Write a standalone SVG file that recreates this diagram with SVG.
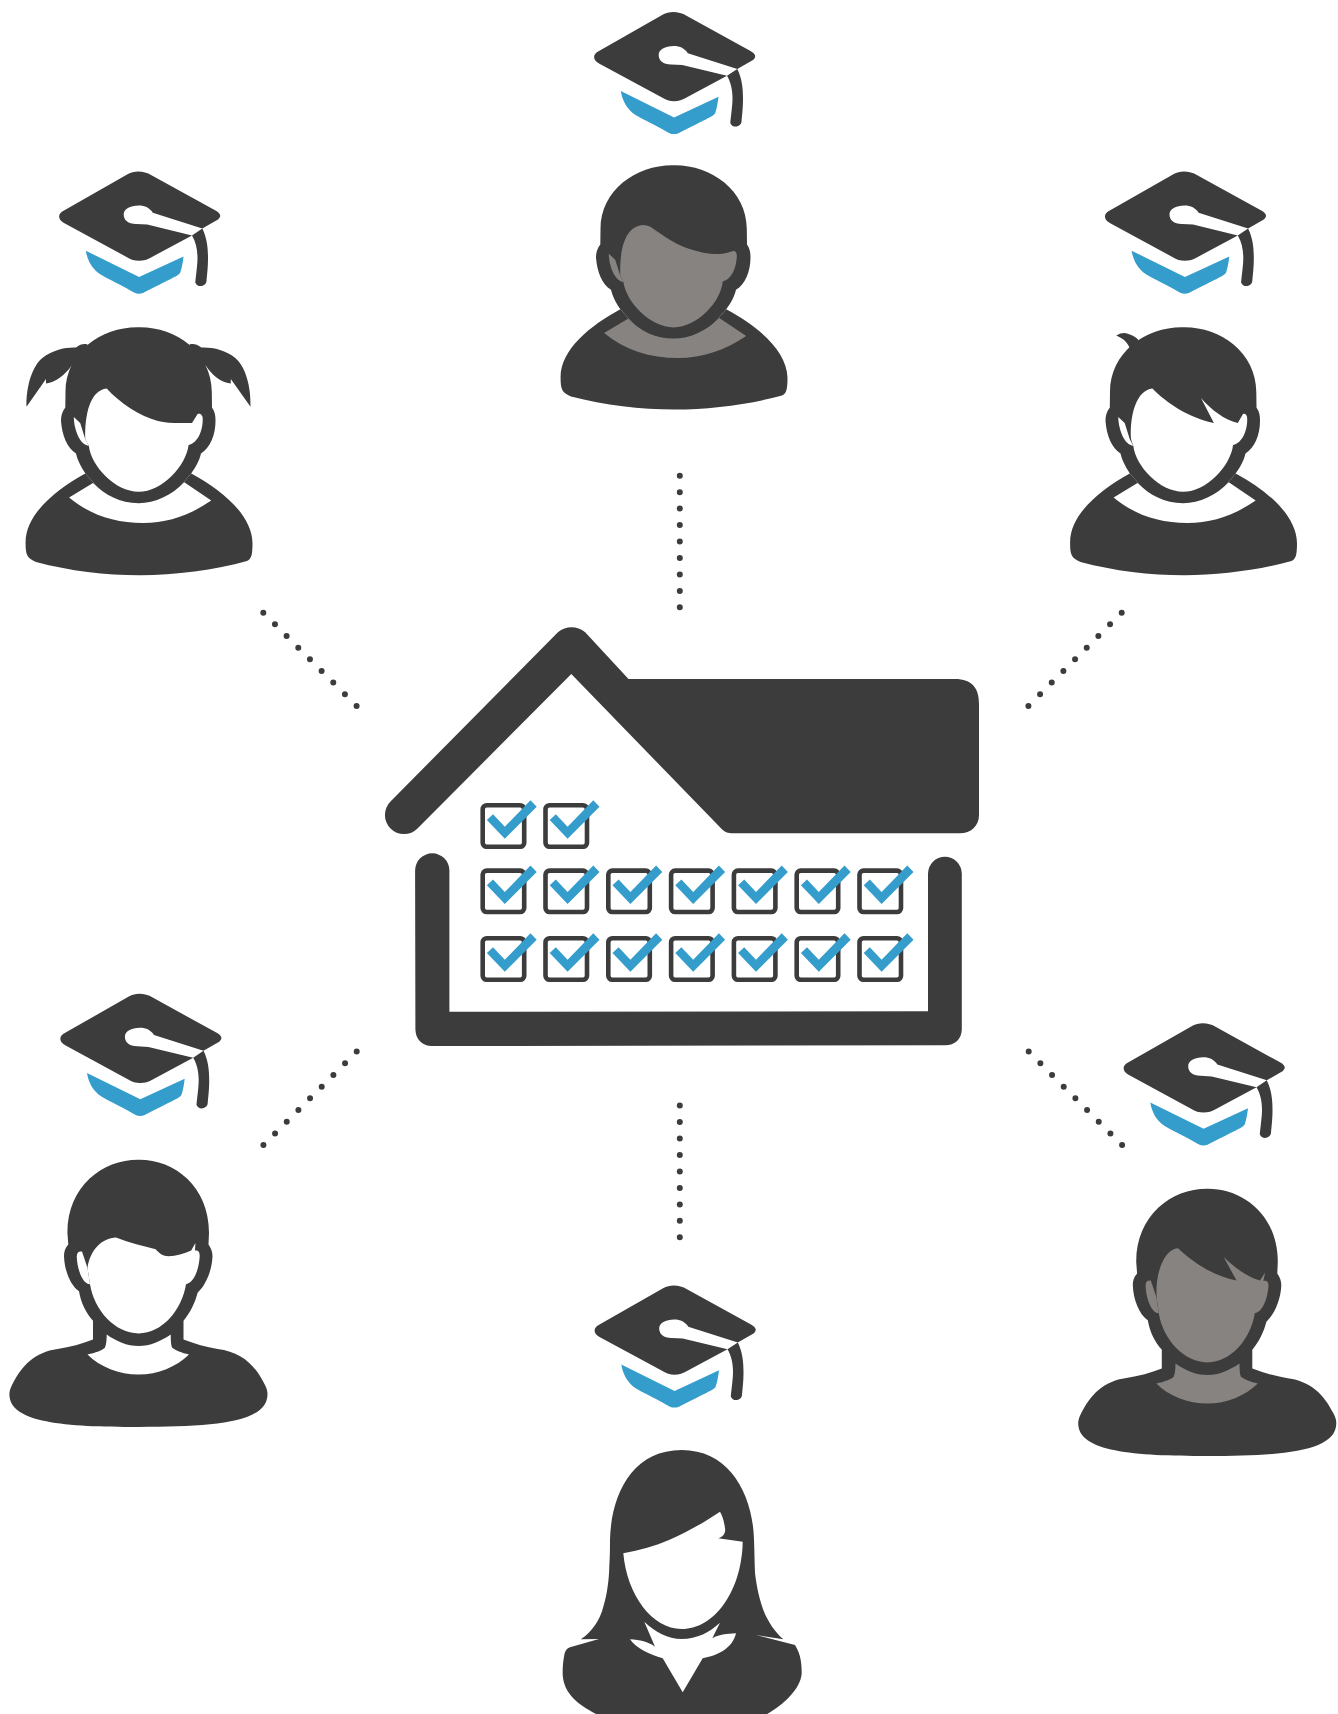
<svg xmlns="http://www.w3.org/2000/svg" xmlns:xlink="http://www.w3.org/1999/xlink" width="1338" height="1714" viewBox="0 0 1338 1714">
<style>
.d{fill:#3c3c3c}
.b{fill:#359dcc}
.w{fill:#fff}
.g{fill:#878381}
.dots line{stroke:#3c3c3c;stroke-width:6;stroke-linecap:round;stroke-dasharray:0 1;fill:none}
</style>
<defs>
<g id="hat">
<path class="d" fill-rule="evenodd" d="M128 174C134 170.5 144 170.5 151.5 175.3L215.5 210.5C221 213.5 221.5 216.5 218 219.5L202.3 228.5L152.8 212.8C150 208 145 205.5 138.7 205.5C130 205.5 123.7 209 123.7 214.5C123.7 220 128 224 136 224L147.2 224.6L192 235.4L151.5 257.2C144 262 134 262 127 257.2L64 223C57.5 219.5 57.5 213.5 64 210.5Z"/>
<path class="d" d="M202.3 228.5C207 238 208 248 208 258C208 268 207 275 206.5 281C206 287 197 288 195.3 282.5C196 275 197.5 265 197.5 258C197.5 250 196 242 192 235.4Z"/>
<path class="b" d="M85.8 250.7L139.1 277L183.5 256.4C182.5 265 181 271 180 273C178 276 170 279 143 293C140 294 137 294 134 292.5C115 281 100 276 95 270C90 265 87 258 85.8 250.7Z"/>
</g>
<path id="bodyA" class="d" d="M85.3 473.4C55 490 25 515 25.6 543C25.6 555 27 558 36 562C70 571 105 575.2 140 575.2C175 575.2 215 570 247 561C251 559 252.5 556 252.5 543C252 515 222 490 191.2 473.4L177 490L100 490Z"/>
<path id="headA" class="d" d="M138.7 327.2C102 326.5 65.5 352 65.5 392L65.3 407.6C62 412 61 416 61 421C62 435 67 448 76 453.5C78 462 82 468 85.3 473.4L100 490C112 498 125 503.2 138.7 503.2C152 503.2 165 498 177 490L191.2 473.4C195 468 199 462 201 453.5C210 448 215.5 435 215.5 421C215.5 416 215 412 212 407.6L211.8 392C211.8 352 175 326.5 138.7 327.2Z"/>
<path id="collarA" d="M69.1 497.5L93 483C105 495 120 503.2 138.7 503.2C155 503.2 172 495 184.3 482.2L211.2 500.6C190 515 168 523 143 523C115 523 90 515 69.1 497.5Z"/>
<path id="earA" d="M73.8 417L80.2 423L85.3 439.3L88.8 445.8C80 445 74 430 73.8 417Z"/>
<path id="faceGirl" d="M85.3 439.3C84.5 415 90 390 106.7 388.4C120 403 140 416 157.9 421C168 423.5 180 423 192 422.9L197.6 414C200 413 203 415 202.7 419C203 430 198 443 188.6 445C186 466 162 491.8 138.7 491.8C115 491.8 91 466 88.8 445.8Z"/>
<path id="faceSpike" d="M86.5 439.3C85 415 92 390 107.9 388.4C122 403 145 418 169.4 422.9L156.5 398C167 410 180 420 193.3 422.9L198.5 414C200.5 413 203 415 202.7 419C203 430 198 443 188.6 445C186 466 162 491.8 138.7 491.8C115 491.8 91 466 88.8 445.8Z"/>
<path id="silB" class="d" d="M138.7 1159.8C103 1159.5 67.4 1186 67.4 1232.8L68.3 1244.5C65 1248 64 1252 64 1256.2C64.5 1270 70 1285 79 1291.3C81 1303 86 1313 93 1320.8L93 1339.5C82 1344 70 1347 57.6 1348.9C35 1352 22 1365 12 1385C10 1389 9.4 1392 9.4 1394.3C9.4 1423 65 1427 138.7 1427C212 1427 267.5 1423 267.5 1394.3C267.5 1392 267 1389 265 1385C255 1365 242 1352 217.6 1348.9C206 1347 195 1344 183.5 1339.5L183.5 1320.8C190 1313 195 1303 197.6 1292.7C206 1285 212 1270 212.5 1256.2C212.5 1252 211 1248 208.5 1244.5L209 1232.8C209 1186 174 1159.5 138.7 1159.8Z"/>
<path id="collarB" d="M87.5 1354.5C95 1353 103 1350 105 1347.5C106.5 1344 106.7 1338 106.7 1334.4C116 1341 127 1346 138.7 1346C150 1346 161 1341 170.7 1334.4C170.7 1340 171 1345 172 1347.5C175 1350 182 1353 189 1354.5C176 1367 158 1374.6 138.7 1374.6C119 1374.6 100 1367 87.5 1354.5Z"/>
<path id="earB" d="M76.8 1256.2C77 1252 79 1251 82 1251.5L87.5 1267.9L90 1284.3C82 1284 77 1268 76.8 1256.2Z"/>
<g id="cb">
<rect x="482.7" y="805.3" width="41.5" height="41.4" rx="4" fill="none" stroke="#3c3c3c" stroke-width="4.6"/>
<path class="b" d="M493 814.3L504.8 826.7L530.5 800.3L536.7 806.7L504.8 838.7L486.9 820Z"/>
</g>
</defs>

<g id="connectors" class="dots">
<line x1="679.8" y1="475.7" x2="679.8" y2="607.5" pathLength="8.01"/>
<line x1="679.8" y1="1105.5" x2="679.8" y2="1237.5" pathLength="8.01"/>
<line x1="263.3" y1="612.7" x2="356.7" y2="706" pathLength="8.01"/>
<line x1="1121.7" y1="612.7" x2="1028.3" y2="706" pathLength="8.01"/>
<line x1="356.7" y1="1051.6" x2="263.3" y2="1145.2" pathLength="8.01"/>
<line x1="1028.7" y1="1051.6" x2="1122.2" y2="1145.2" pathLength="8.01"/>
</g>

<g id="house">
<path class="d" d="M390.5 801.5L557.9 632.3C566 625.5 577 625.5 585.2 632.3L628.5 679L955 679C972 679 979 688 979 704L979 815C979 826 971 833.3 959.8 833.3L733.3 833.3C728 833.3 724 832 721 828.3L571.3 674L417.5 828.5A19 19 0 0 1 390.5 801.5Z"/>
<path class="d" d="M415.1 870.5A17.15 17.15 0 0 1 449.4 870.5L449.4 1011.7L928 1011.3L928 873.6A16.9 16.9 0 0 1 961.8 873.6L961.8 1029C961.8 1039 955 1045.3 945 1045.3L432 1046C422 1046 415.4 1039 415.4 1029Z"/>
<g id="checkboxes">
<use href="#cb"/><use href="#cb" x="62.8"/>
<use href="#cb" y="65.3"/><use href="#cb" x="62.8" y="65.3"/><use href="#cb" x="125.6" y="65.3"/><use href="#cb" x="188.4" y="65.3"/><use href="#cb" x="251.2" y="65.3"/><use href="#cb" x="314" y="65.3"/><use href="#cb" x="376.8" y="65.3"/>
<use href="#cb" y="133"/><use href="#cb" x="62.8" y="133"/><use href="#cb" x="125.6" y="133"/><use href="#cb" x="188.4" y="133"/><use href="#cb" x="251.2" y="133"/><use href="#cb" x="314" y="133"/><use href="#cb" x="376.8" y="133"/>
</g>
</g>

<g id="student-top-left">
<use href="#hat"/>
<use href="#bodyA"/>
<path class="d" d="M76 347.5C66 347 52 350 42.7 357.8C33 365 26 385 26.5 406.8L46 378.9L46 383.5C56 382 65 375 71.7 365.5L85 360L87.5 344.4C84 343.5 80 344 76 347.5Z"/>
<path class="d" d="M201.4 347.5C212 347 226 350 235 357.8C245 366 251 385 250.5 406.8L230.8 378.9L230.8 383.5C220 382 212 375 205.7 365.5L192 360L189.5 344.4C193 343.5 197 344 201.4 347.5Z"/>
<use href="#headA"/>
<use href="#collarA" class="w"/>
<use href="#faceGirl" class="w"/>
<use href="#earA" class="w"/>
</g>

<g id="student-top-center">
<use href="#hat" transform="translate(535,-159.6)"/>
<g transform="translate(535,-156.9) scale(1,.9847)">
<use href="#bodyA"/><use href="#headA"/>
<use href="#collarA" class="g"/>
<path class="g" d="M85.3 439.3C84.5 418 88 389 108.3 387.9C113 388 117 390.5 120 392.9C130 400 140 406.5 148.3 409.9C162 415.5 175 417.5 185 417.3C190 417 195 415 198.3 414.3C201 414 202.3 417 201.7 421.7C201 431 197 443 187.7 445.3C186 466 162 491.8 138.7 491.8C115 491.8 91 466 88.3 445.3Z"/>
<use href="#earA" class="g"/>
</g>
</g>

<g id="student-top-right">
<use href="#hat" transform="translate(1045.8,0)"/>
<g transform="translate(1044.5,0)">
<use href="#bodyA"/><use href="#headA"/>
<path class="d" d="M71.7 335.6C76 333 80 332.5 83.2 333.7C87 334.5 91 337 93.9 339.8L90 352L85.3 349C85 346 82 343 81.9 342.5C79 339 75 337 71.7 335.6Z"/>
<use href="#collarA" class="w"/>
<use href="#faceSpike" class="w"/>
<use href="#earA" class="w"/>
</g>
</g>

<g id="student-bottom-left">
<use href="#hat" transform="translate(1.2,822.3)"/>
<use href="#silB"/>
<use href="#collarB" class="w"/>
<path class="w" d="M87.5 1267.9C90 1250 102 1238 116 1237.5C130 1243 143 1246 155.7 1249.2C160 1254 163 1256 168.5 1256.2C176 1256.2 184 1254 191.2 1250.6L195.4 1243L195 1250.6C199 1250 199.7 1253 199.7 1256.2C199 1268 195 1282 186 1284.3C182 1310 162 1333.4 138.7 1333.4C115 1333.4 94 1310 90 1284.3Z"/>
<use href="#earB" class="w"/>
</g>

<g id="student-bottom-right">
<use href="#hat" transform="translate(1064.5,851.8)"/>
<g transform="translate(1068.8,29)">
<use href="#silB"/>
<use href="#collarB" class="g"/>
<path class="g" d="M87.9 1269.3C86 1245 95 1220 109.3 1219.2C125 1234 145 1247 167.7 1251.5L154.9 1228.1C165 1238 178 1248 191.2 1251.5L196.3 1243.6L194.6 1252C198 1251 199.7 1253 199.7 1256.2C199 1268 195 1282 186 1284.3C182 1310 162 1333.4 138.7 1333.4C115 1333.4 94 1310 90 1284.3Z"/>
<use href="#earB" class="g"/>
</g>
</g>

<g id="teacher-bottom-center">
<use href="#hat" transform="translate(535.5,1113.9)"/>
<path class="d" d="M681.7 1450C730 1450 753 1495 754 1540C754.5 1552 754.5 1562 755 1573C757 1590 760 1600 763.3 1610C768 1622 775 1632 783.3 1639.3L756 1635L795 1645C798 1650 800 1655 800.7 1660C801.5 1665 801.7 1669 801.7 1673C801 1690 780 1708 763.3 1716L600 1716C580 1706 564 1695 562.7 1675C562.5 1668 563 1662 564 1656.7C565 1650 567 1648.5 570 1647.3L599 1639L580.7 1639.3C592 1632 600 1620 603.3 1606.7C607 1595 609 1580 609.3 1566.7C610 1555 610 1548 610 1540C611 1495 632 1450 681.7 1450Z"/>
<path class="w" d="M623.3 1553.3C627 1595 652 1629 681.7 1629C715 1629 742 1590 742.7 1541.7L718.3 1538.3C723 1537 726 1533 725 1528.3C724 1520 722 1515 720 1511.7C700 1525 685 1533 669 1540C655 1546 640 1550 623.3 1553.3Z"/>
<path class="w" d="M644.3 1621.7C655 1632 668 1639 681.7 1639C697 1639 710 1632 720 1622.7L712.3 1638.3C718 1635 727 1633.5 736 1633.3C733 1647 720 1655 702.7 1658.3L682.7 1692.3L662.7 1658.3C650 1655 636 1648 630 1639.3C640 1640 648 1641.5 655 1646.7Z"/>
</g>
</svg>
